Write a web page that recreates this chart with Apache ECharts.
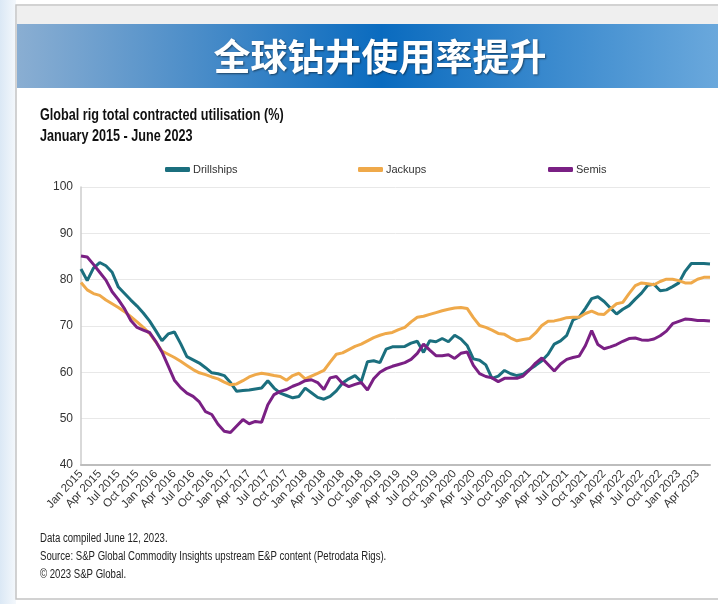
<!DOCTYPE html>
<html>
<head>
<meta charset="utf-8">
<script src="https://cdn.jsdelivr.net/npm/echarts@6/dist/echarts.min.js"></script>
<style>
  html, body { margin: 0; padding: 0; background: #fff; }
  #chart { width: 718px; height: 604px; }
</style>
</head>
<body>
<div id="chart"></div>
<script>
// months Jan 2015 .. Jun 2023
const monthNames = ['Jan', 'Feb', 'Mar', 'Apr', 'May', 'Jun', 'Jul', 'Aug', 'Sep', 'Oct', 'Nov', 'Dec'];
const months = [];
for (let y = 2015; y <= 2023; y++) {
  for (let m = 0; m < 12; m++) {
    if (y === 2023 && m > 5) break;
    months.push(monthNames[m] + ' ' + y);
  }
}

const drillships = [
  82.3, 79.8, 82.5, 83.7, 83.0, 81.6, 78.4, 77.0, 75.6, 74.3,
  72.8, 71.1, 69.0, 66.8, 68.3, 68.7, 66.2, 63.4, 62.7, 62.0,
  61.0, 59.9, 59.7, 59.3, 57.8, 55.9, 56.1, 56.2, 56.4, 56.6,
  58.2, 56.6, 55.5, 55.0, 54.5, 54.8, 56.6, 55.6, 54.6, 54.2,
  54.8, 56.0, 57.7, 58.6, 59.3, 58.0, 62.3, 62.5, 62.1, 65.0,
  65.5, 65.5, 65.6, 66.3, 66.7, 64.3, 66.8, 66.6, 67.3, 66.6,
  68.0, 67.2, 65.8, 62.9, 62.6, 61.6, 58.7, 59.2, 60.4, 59.7,
  59.3, 59.6, 60.6, 61.5, 62.5, 63.9, 66.1, 66.8, 68.0, 71.3,
  71.9, 73.8, 75.9, 76.3, 75.3, 73.9, 72.6, 73.6, 74.4, 75.8,
  77.1, 78.8, 79.0, 77.6, 77.8, 78.5, 79.3, 81.8, 83.5, 83.5,
  83.5, 83.4
];

const jackups = [
  79.4, 77.8, 77.0, 76.6, 75.6, 74.8, 74.0, 73.1, 72.0, 70.9,
  69.7, 68.4, 66.6, 64.6, 63.9, 63.2, 62.4, 61.5, 60.6, 59.9,
  59.5, 59.0, 58.6, 57.9, 57.3, 57.5, 58.2, 59.0, 59.5, 59.8,
  59.6, 59.3, 59.1, 58.3, 59.3, 59.8, 58.6, 59.2, 59.8, 60.4,
  62.2, 63.9, 64.2, 64.9, 65.6, 66.1, 66.8, 67.5, 68.0, 68.4,
  68.6, 69.2, 69.7, 70.9, 71.9, 72.1, 72.5, 72.9, 73.3, 73.6,
  73.9, 74.0, 73.8, 71.8, 70.1, 69.7, 69.1, 68.4, 68.2, 67.4,
  66.8, 67.1, 67.3, 68.5, 70.1, 71.0, 71.1, 71.4, 71.8, 71.9,
  71.9, 72.7, 73.2, 72.6, 72.5, 73.7, 74.8, 75.1, 77.0, 78.7,
  79.3, 79.1, 78.9, 79.6, 80.1, 80.1, 79.8, 79.3, 79.3, 80.1,
  80.5, 80.5
];

const semis = [
  85.1, 84.9, 83.3, 81.6, 79.9, 77.4, 75.7, 73.7, 71.2, 69.7,
  69.1, 68.6, 66.7, 64.4, 61.4, 58.3, 56.7, 55.5, 54.8, 53.6,
  51.5, 50.9, 48.8, 47.3, 47.0, 48.4, 49.8, 48.9, 49.4, 49.2,
  53.0, 55.2, 55.9, 56.3, 57.0, 57.5, 58.2, 58.4, 57.8, 56.3,
  58.8, 59.1, 57.6, 56.9, 57.4, 57.8, 56.2, 58.6, 60.0, 60.8,
  61.3, 61.7, 62.1, 62.8, 64.1, 66.1, 64.8, 63.6, 63.6, 63.8,
  63.0, 64.1, 64.4, 61.5, 59.7, 59.1, 58.8, 58.0, 58.7, 58.7,
  58.7, 59.2, 60.5, 62.0, 63.1, 61.7, 60.3, 61.8, 62.8, 63.2,
  63.5, 65.8, 69.0, 66.0, 65.1, 65.5, 66.0, 66.7, 67.3, 67.4,
  67.0, 66.9, 67.2, 67.9, 68.9, 70.5, 71.0, 71.5, 71.4, 71.2,
  71.2, 71.1
];

const yTicks = [40, 50, 60, 70, 80, 90, 100];

const sans = '"Liberation Sans", Arial, sans-serif';
const colors = { Drillships: '#1b6f7e', Jackups: '#efa94a', Semis: '#7a2084' };

const chart = echarts.init(document.getElementById('chart'));

function legendFor(name, left) {
  return {
    data: [name], left: left, top: 164, padding: 0,
    icon: 'roundRect', itemWidth: 25, itemHeight: 5, itemGap: 3,
    textStyle: { fontFamily: sans, fontSize: 11, color: '#333', padding: [0, 0, 0, -2] }
  };
}

function lineSeries(name, data) {
  return {
    name: name, type: 'line', data: data,
    showSymbol: false, symbol: 'none',
    lineStyle: { width: 3, color: colors[name] },
    itemStyle: { color: colors[name] },
    emphasis: { disabled: true }
  };
}

chart.setOption({
  animation: false,
  backgroundColor: '#fff',
  graphic: [
    { type: 'rect', shape: { x: 0, y: 0, width: 16, height: 604 },
      style: { fill: new echarts.graphic.LinearGradient(0, 0, 1, 0, [
        { offset: 0, color: '#dbe8f5' }, { offset: 1, color: '#f4f8fc' }]) } },
    { type: 'rect', shape: { x: 16, y: 5, width: 710, height: 594 },
      style: { fill: '#fff', stroke: '#c4c4c4', lineWidth: 1.5 } },
    { type: 'rect', shape: { x: 17, y: 6, width: 701, height: 18 },
      style: { fill: '#efefef' } },
    { type: 'rect', shape: { x: 17, y: 24, width: 701, height: 64 },
      style: { fill: new echarts.graphic.LinearGradient(0, 0, 1, 0, [
        { offset: 0, color: '#8aaed2' },
        { offset: 0.52, color: '#0a6bbf' },
        { offset: 1, color: '#6aa8dc' }]) } },
    { type: 'text', style: {
        x: 380, y: 57, text: '全球钻井使用率提升', align: 'center', verticalAlign: 'middle',
        fill: '#fff', font: 'bold 37px "Noto Sans CJK SC", sans-serif',
        textShadowColor: 'rgba(0,0,0,0.5)', textShadowBlur: 2, textShadowOffsetX: 1, textShadowOffsetY: 1 } },
    { type: 'text', x: 40, y: 105, scaleX: 0.79, style: {
        x: 0, y: 0, text: 'Global rig total contracted utilisation (%)\nJanuary 2015 - June 2023',
        fill: '#111', font: 'bold 16px ' + sans, lineHeight: 21 } },
    { type: 'text', x: 40, y: 530, scaleX: 0.8, style: {
        x: 0, y: 0, text: 'Data compiled June 12, 2023.\nSource: S&P Global Commodity Insights upstream E&P content (Petrodata Rigs).\n© 2023 S&P Global.',
        fill: '#222', font: '12px ' + sans, lineHeight: 18 } }
  ],
  legend: [legendFor('Drillships', 165), legendFor('Jackups', 358), legendFor('Semis', 548)],
  grid: { left: 81, right: 8, top: 187, bottom: 139, containLabel: false },
  xAxis: {
    type: 'category', data: months, boundaryGap: false,
    axisLine: { lineStyle: { color: '#bdbdbd', width: 2 } },
    axisTick: { show: false },
    axisLabel: {
      interval: 0,
      formatter: function (val, idx) { return idx % 3 === 0 ? val : ''; },
      rotate: 47, margin: 7, showMinLabel: true, showMaxLabel: true, hideOverlap: false,
      fontFamily: sans, fontSize: 11.5, color: '#333'
    },
    splitLine: { show: false }
  },
  yAxis: {
    type: 'value', min: yTicks[0], max: yTicks[yTicks.length - 1], interval: 10,
    axisLine: { show: true, lineStyle: { color: '#cccccc', width: 1.5 } },
    axisTick: { show: false },
    axisLabel: { fontFamily: sans, fontSize: 12, color: '#333', margin: 8 },
    splitLine: { lineStyle: { color: '#e8e8e8', width: 1 } }
  },
  series: [
    lineSeries('Drillships', drillships),
    lineSeries('Jackups', jackups),
    lineSeries('Semis', semis)
  ]
});
</script>
</body>
</html>
